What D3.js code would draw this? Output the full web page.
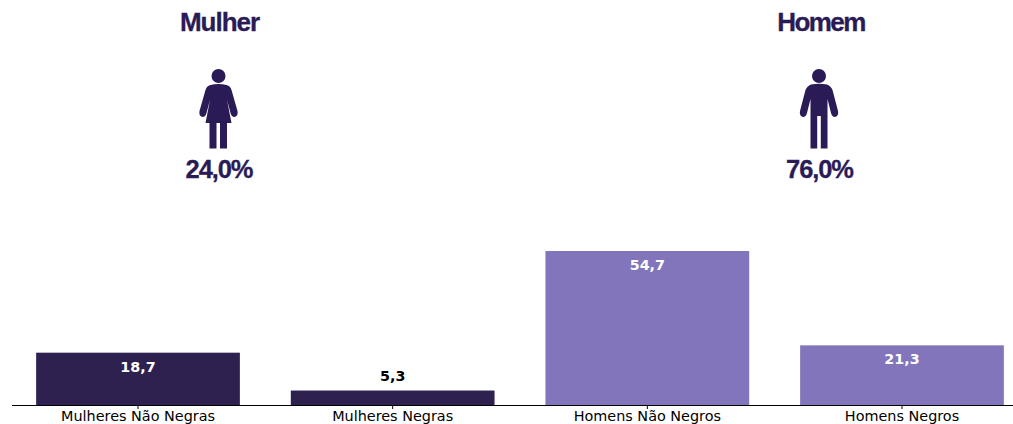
<!DOCTYPE html>
<html>
<head>
<meta charset="utf-8">
<script src="https://cdn.jsdelivr.net/npm/d3@7"></script>
<style>
html, body { margin: 0; padding: 0; background: #fff; overflow: hidden; }
svg { display: block; }
</style>
</head>
<body>
<script>
var categories = ["Mulheres Não Negras", "Mulheres Negras", "Homens Não Negros", "Homens Negros"];
var values = [18.7, 5.3, 54.7, 21.3];
var barColors = ["#2e2150", "#2e2150", "#8375bb", "#8375bb"];
var groupNames = ["Mulher", "Homem"];
var groupShares = [24.0, 76.0];
var groupIcons = ["woman", "man"];

var w = 1013;
var h = 424;
var dark = "#2a1b57";
var baseline = 405.5;

var svg = d3.select("body")
	.append("svg")
	.attr("width", w)
	.attr("height", h);

var x = d3.scaleBand()
	.domain(categories)
	.range([10.67, 1029.33])
	.paddingInner(0.2)
	.paddingOuter(0.1);

var y = d3.scaleLinear()
	.domain([0, 54.7])
	.range([baseline, 251]);

function comma(v, digits) {
	return v.toFixed(digits).replace(".", ",");
}

// bars
svg.selectAll("rect.bar")
	.data(values)
	.enter()
	.append("rect")
	.attr("class", "bar")
	.attr("x", function(d, i) { return x(categories[i]); })
	.attr("y", function(d) { return y(d); })
	.attr("width", x.bandwidth())
	.attr("height", function(d) { return baseline - y(d); })
	.attr("fill", function(d, i) { return barColors[i]; });

// bar labels, small bar gets its label above
svg.selectAll("text.val")
	.data(values)
	.enter()
	.append("text")
	.attr("class", "val")
	.attr("x", function(d, i) { return x(categories[i]) + x.bandwidth() / 2; })
	.attr("y", function(d) { return d < 10 ? y(d) - 9.5 : y(d) + 19; })
	.attr("text-anchor", "middle")
	.attr("font-family", "DejaVu Sans")
	.attr("font-weight", "bold")
	.attr("font-size", 14.3)
	.attr("fill", function(d) { return d < 10 ? "#000" : "#fff"; })
	.text(function(d) { return comma(d, 1); });

// x axis
var axis = svg.append("g")
	.attr("transform", "translate(0," + baseline + ")")
	.call(d3.axisBottom(x).tickSize(3.5).tickPadding(2));
axis.select(".domain").remove();
axis.selectAll("text")
	.attr("font-family", "DejaVu Sans")
	.attr("font-size", 14.4)
	.attr("fill", "#000");
axis.selectAll("line").attr("stroke", "#000");
axis.append("line")
	.attr("x1", 12)
	.attr("x2", w)
	.attr("y1", 0)
	.attr("y2", 0)
	.attr("stroke", "#000")
	.attr("stroke-width", 1);

// pictograms, origin is the centre of the head
function drawIcon(g, kind) {
	g.append("circle").attr("r", 7).attr("fill", dark);
	var body = kind == "woman"
		? "M-8,9 Q0,7 8,9 Q12,10 13,14 L19,35 Q20,40 16,41 Q13,41 12,37 L8.5,24 L13,47 L8.5,47 L8.5,72.5 L1.5,72.5 L1.5,47 L-2,47 L-2,72.5 L-9,72.5 L-9,47 L-13,47 L-8.5,24 L-12,37 Q-13,41 -16,41 Q-20,40 -19,35 L-13,14 Q-12,10 -8,9 Z"
		: "M-8,8.5 Q0,7 8,8.5 Q12,10 13.5,14 L19,35 Q20,40 16,41 Q13,41 12,37 L8.5,23 L8.5,72.5 L1.8,72.5 L1.8,40 L-1.8,40 L-1.8,72.5 L-8.5,72.5 L-8.5,23 L-12,37 Q-13,41 -16,41 Q-20,40 -19,35 L-13.5,14 Q-12,10 -8,8.5 Z";
	g.append("path").attr("d", body).attr("fill", dark);
}

var groupX = [218.5, 819];
var titleX = [219.5, 821];
var titleSpacing = [-1, -1.6];
groupNames.forEach(function(name, i) {
	svg.append("text")
		.attr("x", titleX[i])
		.attr("y", 31)
		.attr("text-anchor", "middle")
		.attr("font-family", "Liberation Sans")
		.attr("font-weight", "bold")
		.attr("font-size", 26)
		.attr("letter-spacing", titleSpacing[i])
		.attr("stroke", dark)
		.attr("stroke-width", 0.3)
		.attr("fill", dark)
		.text(name);
	drawIcon(svg.append("g").attr("transform", "translate(" + groupX[i] + ",76)"), groupIcons[i]);
	svg.append("text")
		.attr("x", groupX[i] + 0.5)
		.attr("y", 178)
		.attr("text-anchor", "middle")
		.attr("font-family", "Liberation Sans")
		.attr("font-weight", "bold")
		.attr("font-size", 25.5)
		.attr("letter-spacing", -1.1)
		.attr("stroke", dark)
		.attr("stroke-width", 0.3)
		.attr("fill", dark)
		.text(comma(groupShares[i], 1) + "%");
});
</script>
</body>
</html>
